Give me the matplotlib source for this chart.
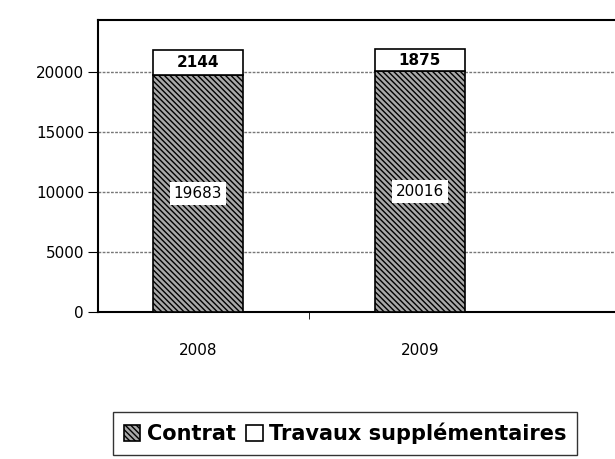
import matplotlib.pyplot as plt

# data
years = ['2008', '2009']
contrat = [19683, 20016]
travaux = [2144, 1875]

plt.rcParams['hatch.linewidth'] = 1.0
plt.rcParams['hatch.color'] = '#333333'

fig = plt.figure(figsize=(6.15, 4.59), dpi=100)
# plot area runs past the right edge of the picture (scan is cropped)
ax = fig.add_axes([98 / 615, 147 / 459, 666 / 615, 292 / 459])

x = list(range(len(years)))
bars1 = ax.bar(x, contrat, width=0.405, color='#a8a8a8', edgecolor='black',
               hatch='\\\\\\\\\\\\', linewidth=1.2, label='Contrat', zorder=3)
bars2 = ax.bar(x, travaux, width=0.405, bottom=contrat, color='white',
               edgecolor='black', linewidth=1.2,
               label='Travaux supplémentaires', zorder=3)

# value labels
for xi, c, t in zip(x, contrat, travaux):
    ax.text(xi, c / 2, str(c), ha='center', va='center', fontsize=11,
            bbox=dict(facecolor='white', edgecolor='none', pad=3), zorder=4)
    ax.text(xi, c + t / 2, str(t), ha='center', va='center', fontsize=11,
            fontweight='bold', zorder=4)

ax.set_xlim(-0.45, 2.55)
ax.set_ylim(0, 24300)
ax.set_yticks([0, 5000, 10000, 15000, 20000])
ax.set_xticks([0.5], minor=True)
ax.set_xticks(x)
ax.set_xticklabels(years)
ax.tick_params(axis='x', which='major', length=0, pad=22, labelsize=11)
ax.tick_params(axis='x', which='minor', length=5, direction='out')
ax.tick_params(axis='y', length=7, labelsize=11, pad=3)

ax.grid(axis='y', color='#777777', linestyle=(0, (2, 1)), linewidth=1, zorder=0)
for s in ax.spines.values():
    s.set_linewidth(1.5)

fig.legend(handles=[bars1, bars2], labels=['Contrat', 'Travaux supplémentaires'],
           loc='upper center', bbox_to_anchor=(345 / 615, 1 - 402 / 459), ncol=2,
           frameon=True, fancybox=False, edgecolor='black',
           handlelength=0.8, handleheight=0.8, handletextpad=0.3,
           columnspacing=0.5, borderpad=0.5, prop={'weight': 'bold', 'size': 15})

fig.savefig('out.png', dpi=100)
